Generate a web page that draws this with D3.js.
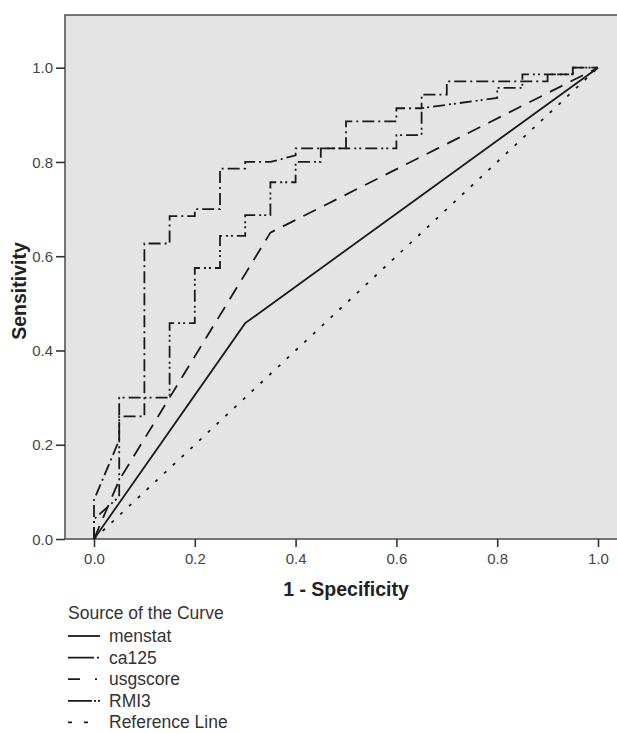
<!DOCTYPE html>
<html>
<head>
<meta charset="utf-8">
<style>
  body { margin: 0; background: #fff; }
  svg text { font-family: "Liberation Sans", Arial, sans-serif; }
</style>
</head>
<body>
<div id="roc"></div>
<script src="https://d3js.org/d3.v7.min.js"></script>
<script>
    // values (1 - specificity, sensitivity)
    var menstatX = [0, 0.30, 1];
    var menstatY = [0, 0.458, 1];

    var ca125X = [0, 0, 0.05, 0.05, 0.10, 0.10, 0.15, 0.15, 0.20, 0.20, 0.25, 0.25, 0.30, 0.30, 0.35, 0.40, 0.40, 0.50, 0.50, 0.60, 0.60, 0.65, 0.65, 0.70, 0.70, 0.90, 0.90, 0.95, 0.95, 1.0];
    var ca125Y = [0, 0.083, 0.21, 0.26, 0.26, 0.627, 0.627, 0.685, 0.685, 0.70, 0.70, 0.786, 0.786, 0.80, 0.80, 0.814, 0.829, 0.829, 0.886, 0.886, 0.914, 0.914, 0.943, 0.943, 0.971, 0.971, 0.986, 0.986, 1.0, 1.0];

    var usgX = [0, 0.05, 0.35, 1];
    var usgY = [0, 0.125, 0.65, 1];

    var rmiX = [0, 0, 0.05, 0.05, 0.15, 0.15, 0.20, 0.20, 0.25, 0.25, 0.30, 0.30, 0.35, 0.35, 0.40, 0.40, 0.45, 0.45, 0.60, 0.60, 0.65, 0.65, 0.80, 0.80, 0.85, 0.85, 0.95, 0.95, 1.0];
    var rmiY = [0, 0.042, 0.09, 0.30, 0.30, 0.458, 0.458, 0.575, 0.575, 0.643, 0.643, 0.687, 0.687, 0.757, 0.757, 0.80, 0.80, 0.829, 0.829, 0.857, 0.857, 0.914, 0.936, 0.957, 0.957, 0.986, 0.986, 1.0, 1.0];

    var refX = [0, 1];
    var refY = [0, 1];

    var ticks = [0, 0.2, 0.4, 0.6, 0.8, 1.0];
    var seriesNames = ["menstat", "ca125", "usgscore", "RMI3", "Reference Line"];

    var width = 617, height = 733;
    var frame = {left: 65, top: 15, right: 625, bottom: 539};

    var svg = d3.select("#roc").append("svg")
        .attr("width", width)
        .attr("height", height);

    var x = d3.scaleLinear().domain([0, 1]).range([94, 598]);
    var y = d3.scaleLinear().domain([0, 1]).range([539, 67.7]);

    // plot background + frame
    svg.append("rect")
        .attr("x", frame.left).attr("y", frame.top)
        .attr("width", frame.right - frame.left)
        .attr("height", frame.bottom - frame.top)
        .attr("fill", "#e4e4e4")
        .attr("stroke", "#555")
        .attr("stroke-width", 1.6);

    // axes
    var yAxis = svg.append("g")
        .attr("transform", "translate(" + frame.left + ",0)")
        .call(d3.axisLeft(y).tickValues(ticks).tickFormat(d3.format(".1f")).tickSize(9).tickPadding(3));
    var xAxis = svg.append("g")
        .attr("transform", "translate(0," + frame.bottom + ")")
        .call(d3.axisBottom(x).tickValues(ticks).tickFormat(d3.format(".1f")).tickSize(8).tickPadding(6));

    [xAxis, yAxis].forEach(function(g) {
        g.select(".domain").remove();
        g.selectAll("line").attr("stroke", "#333").attr("stroke-width", 1.6);
        g.selectAll("text").attr("fill", "#444").style("font-size", "15px");
    });
    yAxis.selectAll("text").attr("dy", "0.35em");

    svg.append("text")
        .attr("transform", "translate(26,291) rotate(-90)")
        .attr("text-anchor", "middle")
        .attr("fill", "#222")
        .style("font-size", "19.5px")
        .style("font-weight", "bold")
        .text("Sensitivity");

    svg.append("text")
        .attr("x", 346).attr("y", 596)
        .attr("text-anchor", "middle")
        .attr("fill", "#222")
        .style("font-size", "19.5px")
        .style("font-weight", "bold")
        .text("1 - Specificity");

    // curves
    var line = d3.line()
        .x(function(d) { return x(d[0]); })
        .y(function(d) { return y(d[1]); });

    var curves = [
        {xs: menstatX, ys: menstatY, dash: null, legendDash: null},
        {xs: ca125X, ys: ca125Y, dash: "12,4,2,4", legendDash: "26,3,2,10"},
        {xs: usgX, ys: usgY, dash: "14,9", legendDash: "12,15,2,10"},
        {xs: rmiX, ys: rmiY, dash: "12,4,2,3,2,4", legendDash: "24,2,2,2,2,10"},
        {xs: refX, ys: refY, dash: "3,9", legendDash: "4,12,4,20"}
    ];

    var plot = svg.append("g");
    curves.forEach(function(c) {
        plot.append("path")
            .datum(d3.zip(c.xs, c.ys))
            .attr("d", line)
            .attr("fill", "none")
            .attr("stroke", "#1a1a1a")
            .attr("stroke-width", 1.8)
            .attr("stroke-dasharray", c.dash);
    });

    // legend
    var legend = svg.append("g");
    legend.append("text")
        .attr("x", 68).attr("y", 619)
        .attr("fill", "#333")
        .style("font-size", "17.5px")
        .text("Source of the Curve");

    seriesNames.forEach(function(name, i) {
        var ly = 636 + i * 21.6;
        legend.append("line")
            .attr("x1", 68).attr("x2", 100)
            .attr("y1", ly).attr("y2", ly)
            .attr("stroke", "#1a1a1a")
            .attr("stroke-width", 1.8)
            .attr("stroke-dasharray", curves[i].legendDash);
        legend.append("text")
            .attr("x", 109).attr("y", ly + 6)
            .attr("fill", "#333")
            .style("font-size", "17.5px")
            .text(name);
    });
</script>
</body>
</html>
